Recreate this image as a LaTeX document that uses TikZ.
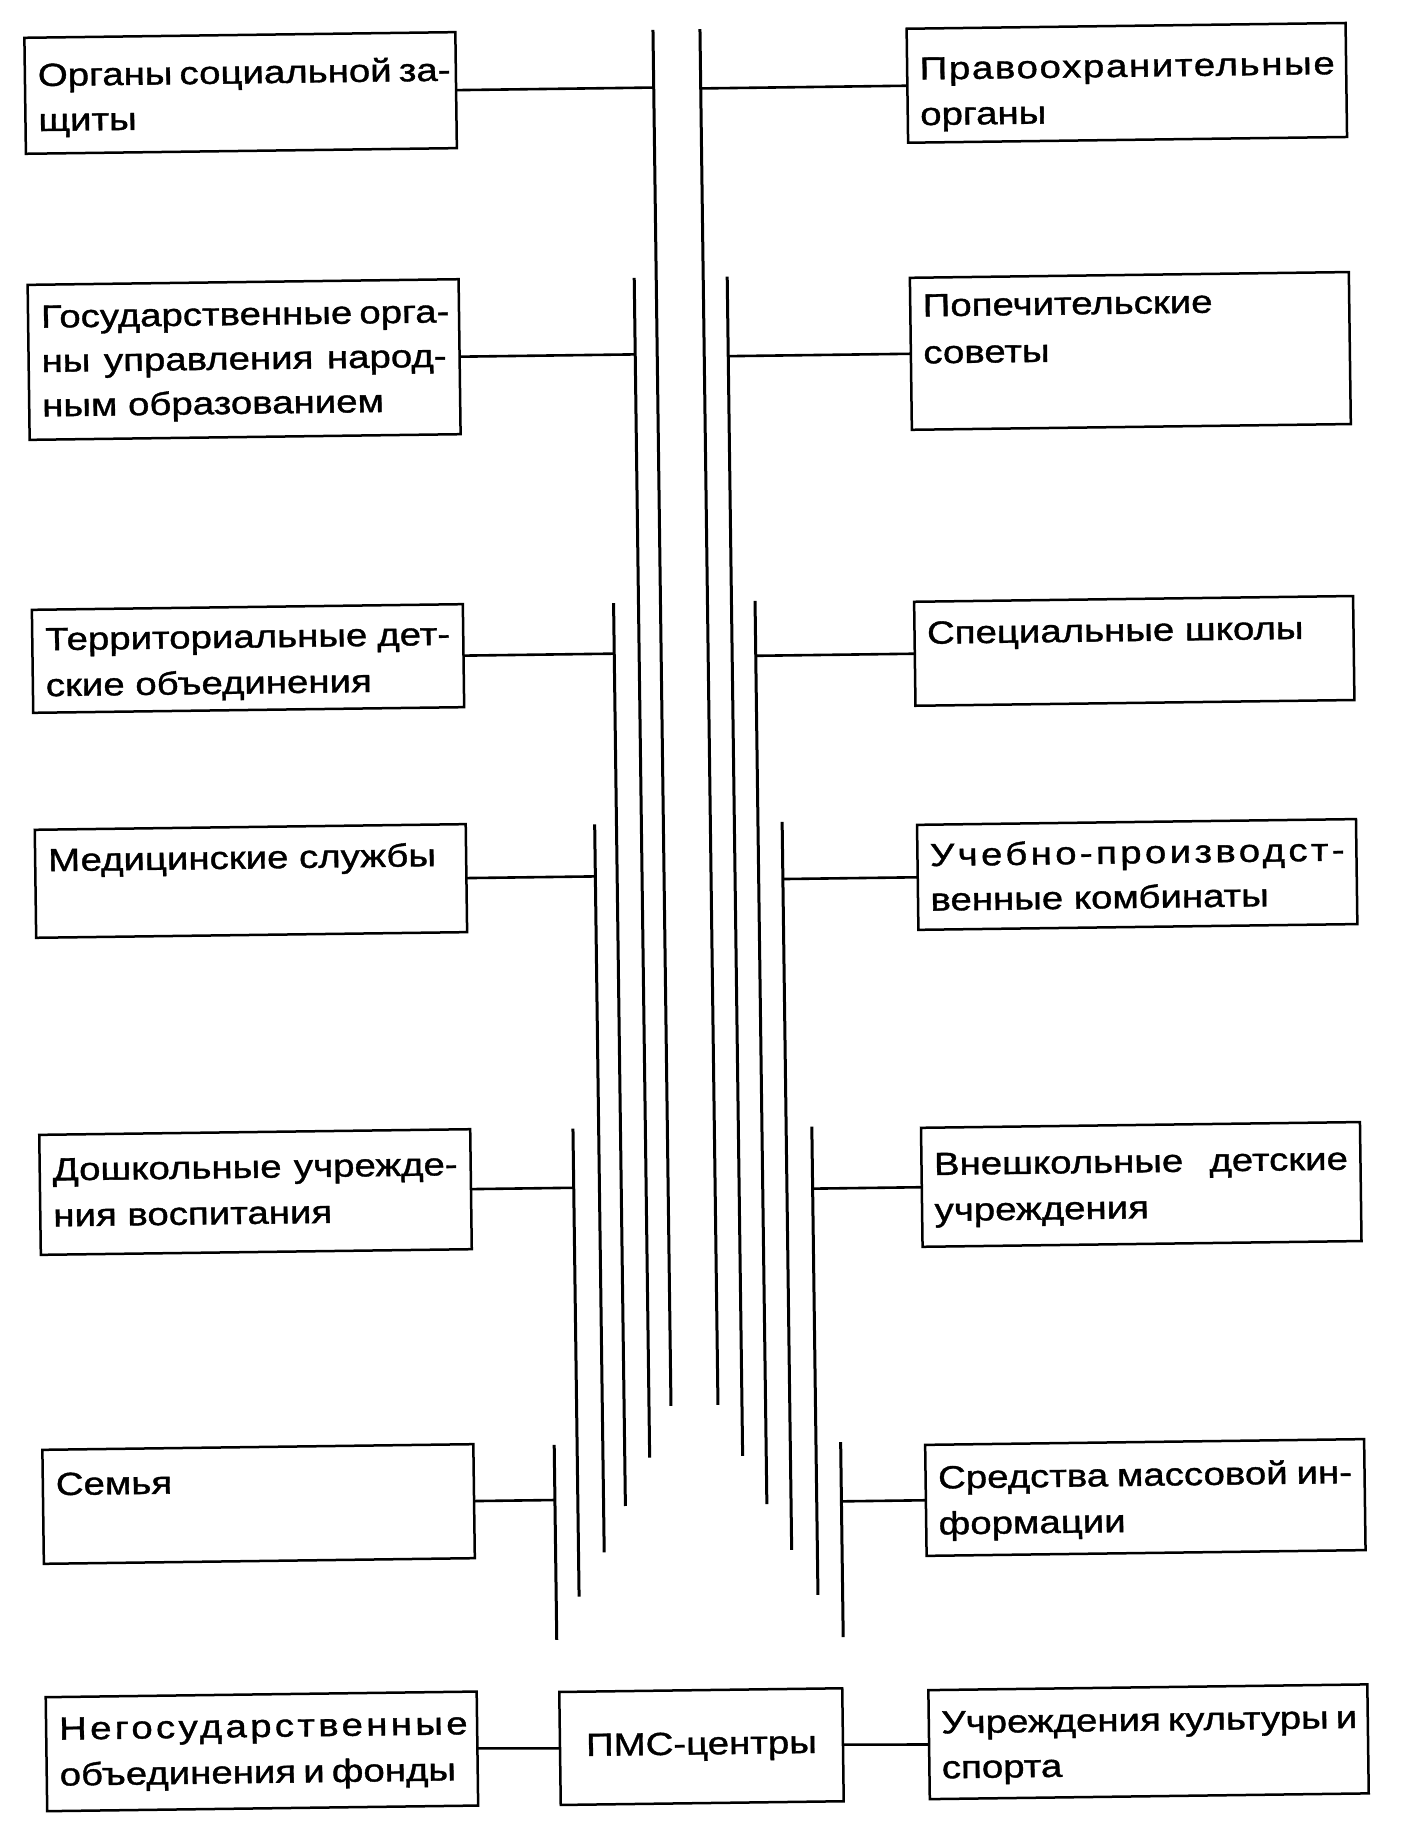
\documentclass[tikz,border=0pt]{standalone}
\usepackage{fontspec}
\setmainfont{Liberation Sans}[FakeStretch=1.20,FakeBold=1.2]
% #1 text width, #2 box height, #3 first baseline from top, #4 baselineskip, #5 lines
\newcommand{\boxcontent}[5]{\parbox[t][#2][t]{#1}{\fontsize{16pt}{#4}\selectfont\raggedright\rule{0pt}{#3}\ignorespaces#5}}
\newcommand{\jl}[1]{\makebox[\linewidth][s]{#1}}
\newcommand{\jw}[2]{\makebox[#1][s]{#2}}
\newcommand{\lsp}[2]{{\addfontfeature{LetterSpace=#1}#2}}
\begin{document}
\begin{tikzpicture}[x=0.5pt,y=-0.5pt,
  box/.style={draw, line width=1.25pt, rectangle, inner ysep=0pt, outer sep=0pt,
              font=\fontsize{16pt}{22pt}\selectfont},
  lbox/.style={box, inner xsep=6.5pt},
  rbox/.style={box, inner xsep=6.25pt},
  bus/.style={line width=1.5pt},
  link/.style={line width=1.3pt}]
\fill[white] (0,0) rectangle (1413,1844);
\useasboundingbox (0,0) rectangle (1413,1844);
\begin{scope}[rotate around={0.75:(706,922)}, transform shape]
% left column
\node[lbox] (l1) at (251.5,86.9) {\boxcontent{202.5pt}{58pt}{24.25pt}{22.5pt}{\jl{Органы социальной за-}\\щиты}};
\node[lbox] (l2) at (251.5,353.5) {\boxcontent{202.5pt}{77.5pt}{21.5pt}{22.2pt}{\jl{Государственные орга-}\\\jl{ны управления народ-}\\ным образованием}};
\node[lbox] (l3) at (251.5,652.5) {\boxcontent{202.5pt}{51.5pt}{20.3pt}{23pt}{\jl{Территориальные дет-}\\ские объединения}};
\node[lbox] (l4) at (251.5,875) {\boxcontent{202.5pt}{54pt}{20.8pt}{22pt}{Медицинские службы}};
\node[lbox] (l5) at (252,1186.1) {\boxcontent{202.5pt}{60pt}{22.9pt}{23pt}{\jl{Дошкольные учрежде-}\\ния воспитания}};
\node[lbox] (l6) at (251,1498.1) {\boxcontent{202.5pt}{57pt}{22.75pt}{22pt}{Семья}};
\node[lbox] (l7) at (251.1,1745.5) {\boxcontent{202.5pt}{57pt}{21.3pt}{23pt}{\jw{203.5pt}{\lsp{10.4}{Негосударственные}}\\\jw{198pt}{объединения и фонды}}};
% right column
\node[rbox] (r1) at (1137.8,88.4) {\boxcontent{207pt}{57pt}{25.5pt}{22.8pt}{\jl{\lsp{5.2}{Правоохранительные}}\\органы}};
\node[rbox] (r2) at (1137.8,356.5) {\boxcontent{207pt}{76pt}{19.4pt}{23.5pt}{Попечительские\\советы}};
\node[rbox] (r3) at (1137.8,656.5) {\boxcontent{207pt}{52pt}{21.1pt}{22pt}{Специальные школы}};
\node[rbox] (r4) at (1137.8,880.1) {\boxcontent{207pt}{52.5pt}{20.7pt}{22.3pt}{\jl{\lsp{10.5}{Учебно-производст-}}\\венные комбинаты}};
\node[rbox] (r5) at (1137.8,1190.1) {\boxcontent{207pt}{59.5pt}{23.7pt}{23pt}{\jl{Внешкольные детские}\\учреждения}};
\node[rbox] (r6) at (1137.8,1503.2) {\boxcontent{207pt}{55.5pt}{21.9pt}{23pt}{\jl{Средства массовой ин-}\\формации}};
\node[rbox] (r7) at (1137.8,1747.5) {\boxcontent{207pt}{54.5pt}{21.7pt}{22.5pt}{\jl{Учреждения культуры и}\\спорта}};
% centre
\node[box, minimum width=141.5pt, minimum height=56.5pt, inner xsep=0pt] (pms) at (690.7,1746.5) {ПМС-центры};
% buses on the left
\foreach \n/\x/\t/\b/\j in {l1/664.7/29.3/1405.5/86.9, l2/642.7/277/1457/353.5, l3/617.8/602/1505/652.5,
                            l4/596/823/1551/875, l5/570.3/1127/1595/1186.1, l6/547.4/1443/1638/1498.1}{
  \coordinate (\n-t) at (\x,\t);
  \coordinate (\n-b) at (\x,\b);
  \coordinate (\n-j) at (\x,\j);
  \draw[bus] (\n-t) -- (\n-b);
  \draw[link] (\n.east) -- (\n-j);
}
% buses on the right
\foreach \n/\x/\t/\b/\j in {r1/711.7/29/1405/88.4, r2/735.7/277/1456.5/356.5, r3/759.3/601.6/1505/656.5,
                            r4/783.5/823/1551/880.1, r5/809.2/1128/1596.5/1190.1, r6/833.9/1444/1639/1503.2}{
  \coordinate (\n-t) at (\x,\t);
  \coordinate (\n-b) at (\x,\b);
  \coordinate (\n-j) at (\x,\j);
  \draw[bus] (\n-t) -- (\n-b);
  \draw[link] (\n-j) -- (\n.west);
}
\draw[link] (l7.east) -- (pms.west);
\draw[link] (pms.east) -- (r7.west);
\end{scope}
\end{tikzpicture}
\end{document}
